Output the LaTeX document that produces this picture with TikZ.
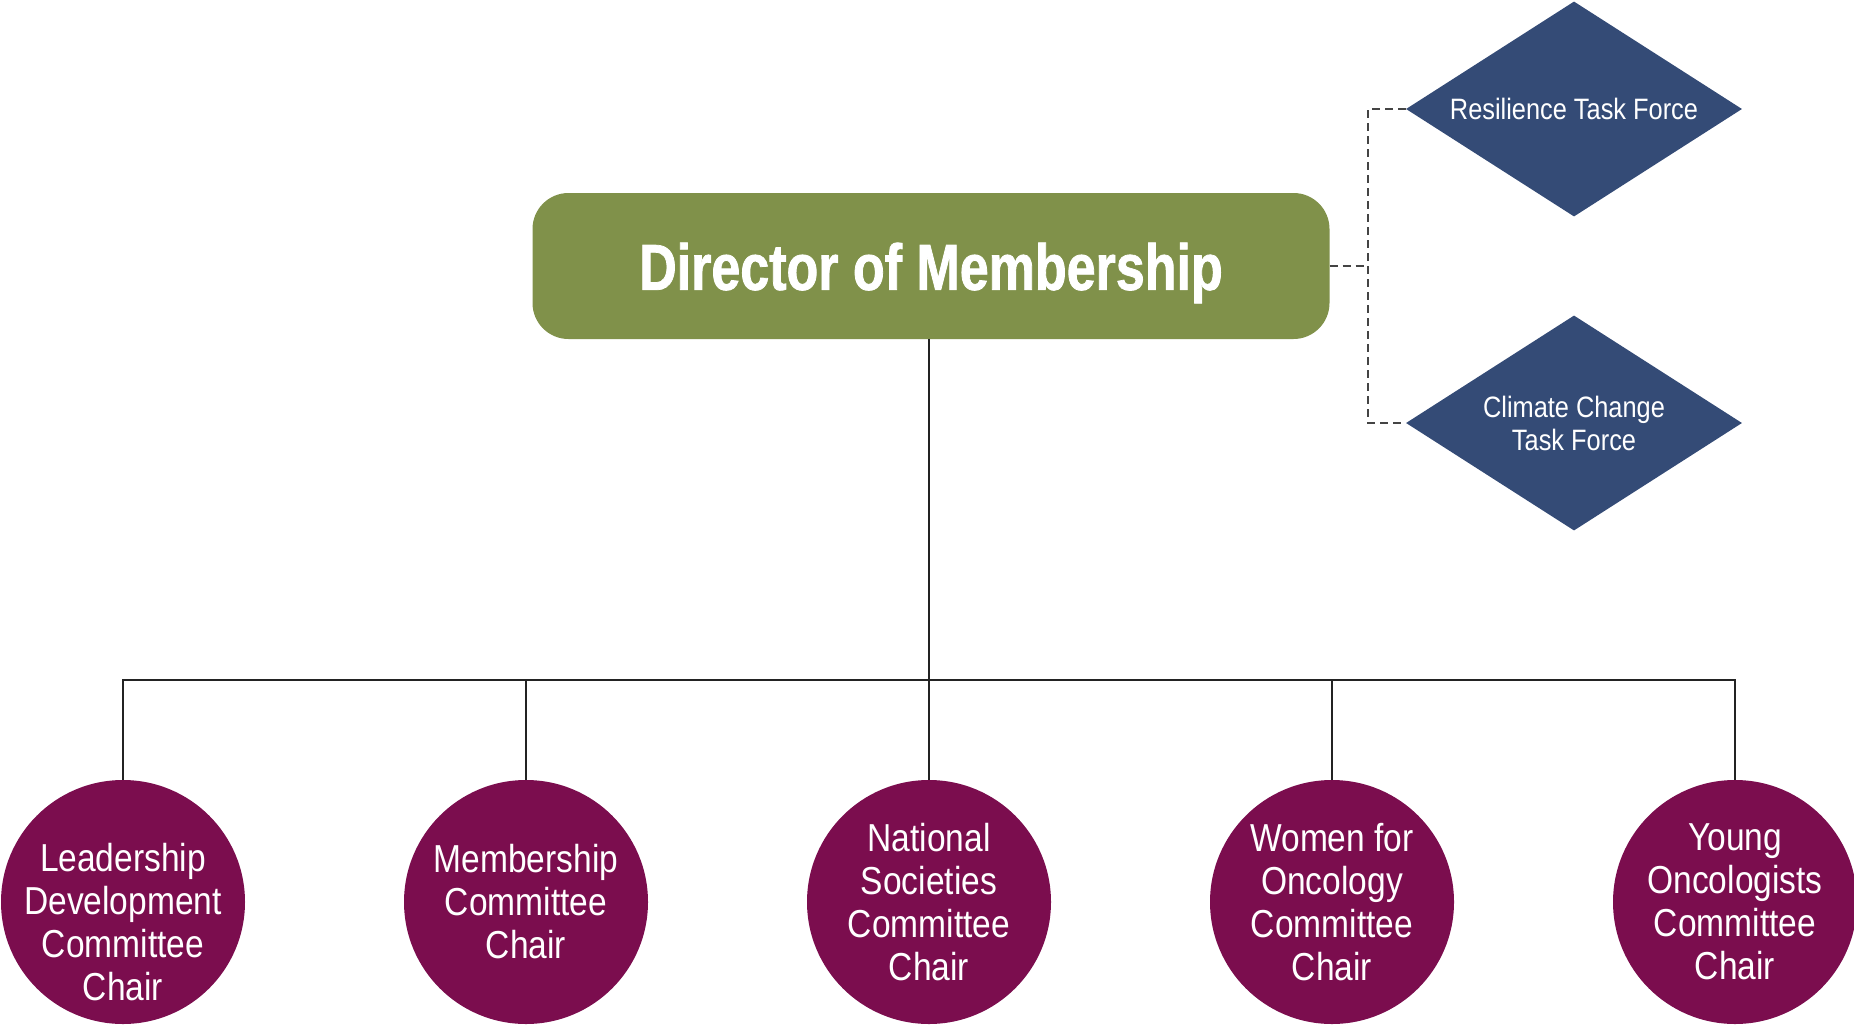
\documentclass[tikz,border=0pt]{standalone}
\usepackage{fontspec}
\setmainfont{Liberation Sans}
\newfontfamily\condfont[FakeStretch=0.86]{Liberation Sans}
\newfontfamily\condbold[FakeStretch=0.8,FakeBold=1.2]{Liberation Sans}
\usetikzlibrary{shapes.geometric}
\definecolor{dirgreen}{RGB}{128,145,74}
\definecolor{tfnavy}{RGB}{52,75,118}
\definecolor{chairred}{RGB}{123,13,78}
\definecolor{linegray}{RGB}{35,35,35}
\tikzset{
  dirbox/.style={rectangle, rounded corners=36pt, fill=dirgreen, minimum width=797pt, minimum height=146pt, inner sep=0pt,
    text=white, font=\condbold\bfseries\fontsize{65}{70}\selectfont},
  tfbox/.style={diamond, aspect=1.56, fill=tfnavy, minimum width=336pt, minimum height=215pt, inner sep=0pt,
    text=white, align=center, font=\condfont\fontsize{29.5}{33}\selectfont},
  chairbox/.style={circle, fill=chairred, minimum size=244pt, inner sep=0pt},
  chairtext/.style={text=white, align=center, inner sep=0pt, font=\condfont\fontsize{39}{43}\selectfont},
  conn/.style={draw=linegray, line width=2pt},
  dashconn/.style={draw=linegray!85, line width=1.8pt, dash pattern=on 8pt off 5pt},
}
\begin{document}
\begin{tikzpicture}[x=1pt, y=-1pt]
\useasboundingbox (0,0) rectangle (1854,1025);
% Director
\node[dirbox] (dir) at (931,266) {\raisebox{-7pt}[\height][\depth]{Director of Membership}};
% Task forces
\node[tfbox] (d1) at (1574,109) {Resilience Task Force};
\node[tfbox] (d2) at (1574,423) {Climate Change\\Task Force};
% Chairs
\node[chairbox] (c1) at (123,902) {};
\node[chairbox] (c2) at (526,902) {};
\node[chairbox] (c3) at (929,902) {};
\node[chairbox] (c4) at (1332,902) {};
\node[chairbox] (c5) at (1735,902) {};
\node[chairtext] (t1) at (123,922) {Leadership\\Development\\Committee\\Chair};
\node[chairtext] (t2) at (526,902) {Membership\\Committee\\Chair};
\node[chairtext] (t3) at (929,902) {National\\Societies\\Committee\\Chair};
\node[chairtext] (t4) at (1332,902) {Women for\\Oncology\\Committee\\Chair};
\node[chairtext] (t5) at (1735,902) {Young\\Oncologists\\Committee\\Chair};
% Tree connectors
\coordinate (b1) at (123,680);
\coordinate (b5) at (1735,680);
\draw[conn] (c1.north) -- (b1) -- (b5) -- (c5.north);
\draw[conn] (c2.north) -- (c2.north |- b1);
\draw[conn] (c4.north) -- (c4.north |- b1);
\draw[conn] (c3.north |- dir.south) -- (c3.north);
% Dashed connectors to task forces
\coordinate (dj) at (1368,266);
\draw[dashconn] (dir.east) -- (dj);
\draw[dashconn] (d1.west) -- (d1.west -| dj) -- (d2.west -| dj) -- (d2.west);
\end{tikzpicture}
\end{document}
